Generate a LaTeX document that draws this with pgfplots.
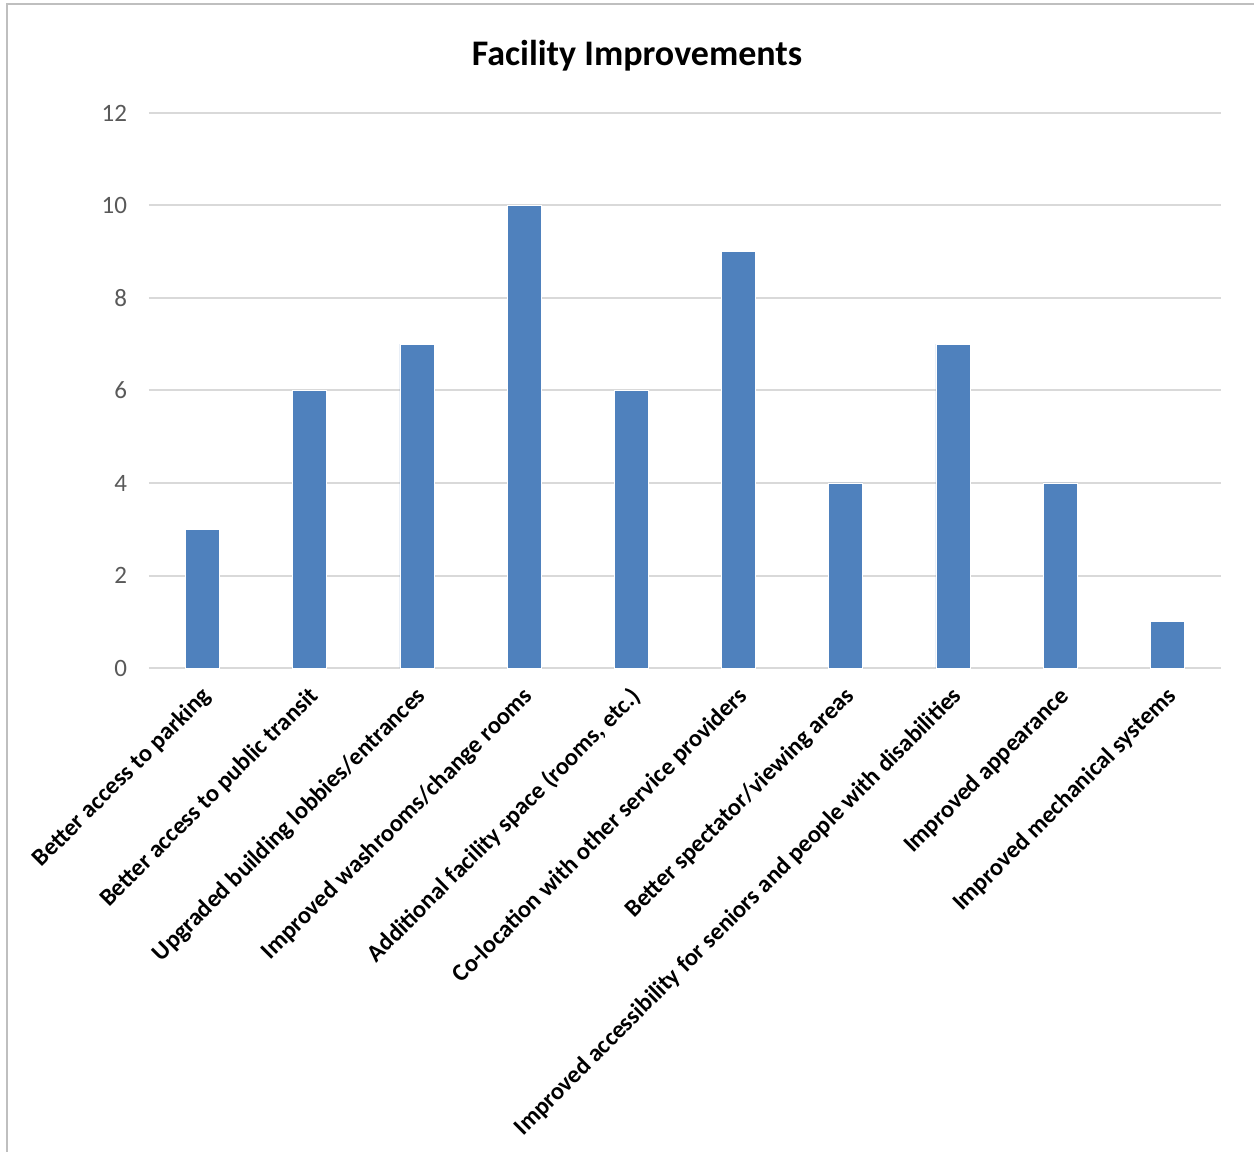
\documentclass[border=0pt]{standalone}
\usepackage{pgfplots}
\pgfplotsset{compat=1.18}
\usepackage{fontspec}
\setmainfont{Carlito}
\definecolor{barblue}{HTML}{4F81BD}
\definecolor{gridgray}{HTML}{D9D9D9}
\definecolor{ticktext}{HTML}{595959}
\definecolor{framegray}{HTML}{BFBFBF}
\begin{document}
\begin{tikzpicture}
\begin{axis}[
  at={(74.5pt,242pt)}, anchor=south west,
  scale only axis,
  width=536pt, height=277.5pt,
  xmin=-0.5, xmax=9.5,
  ymin=0, ymax=12,
  ytick={0,2,...,12},
  xtick=data,
  xticklabels={Better access to parking,Better access to public transit,Upgraded building lobbies/entrances,Improved washrooms/change rooms,{Additional facility space (rooms, etc.)},Co-location with other service providers,Better spectator/viewing areas,Improved accessibility for seniors and people with disabilities,Improved appearance,Improved mechanical systems},
  xticklabel style={rotate=45, anchor=north east, font=\fontsize{12.2}{14}\selectfont\bfseries, text=black, inner sep=1pt, xshift=-5.8pt, yshift=-4pt},
  yticklabel style={font=\fontsize{12.5}{15}\selectfont, text=ticktext, xshift=-7.5pt},
  /pgf/number format/assume math mode=true,
  axis line style={draw=none},
  major tick length=0pt,
  ymajorgrids,
  grid style={gridgray, line width=1pt},
  extra y ticks={0},
  extra y tick labels={},
  extra y tick style={grid style={gridgray, line width=1.2pt}},
  clip=false,
]
\addplot[ybar, bar width=17pt, fill=barblue, draw=white, line width=0.3pt] coordinates {
  (0,3) (1,6) (2,7) (3,10) (4,6) (5,9) (6,4) (7,7) (8,4) (9,1)
};
\end{axis}
\node[font=\fontsize{18}{22}\selectfont\bfseries] at (318.5pt,548pt) {Facility Improvements};
\draw[framegray, line width=1pt] (3.5pt,0pt) -- (3.5pt,574pt) -- (627pt,574pt);
\pgfresetboundingbox
\useasboundingbox (0,0) rectangle (627pt,576pt);
\end{tikzpicture}
\end{document}
